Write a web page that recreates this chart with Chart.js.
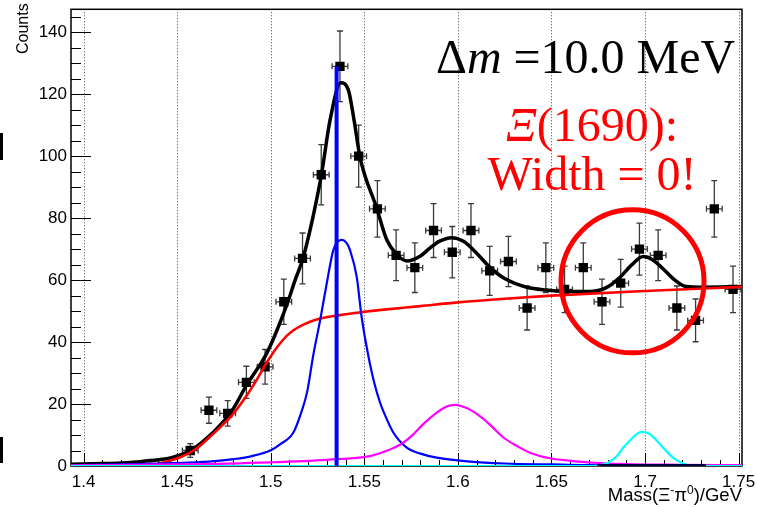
<!DOCTYPE html>
<html><head><meta charset="utf-8">
<script src="https://cdn.jsdelivr.net/npm/chart.js@4.4.0/dist/chart.umd.min.js"></script>
<style>
html,body{margin:0;padding:0;background:#fff;}
#wrap{position:relative;width:757px;height:507px;overflow:hidden;background:#fff;}
canvas{position:absolute;left:0;top:0;}
.t{position:absolute;white-space:nowrap;line-height:1;}
.bar{position:absolute;background:#000;}
</style></head><body>
<div id="wrap">
<canvas id="c" width="757" height="507"></canvas>
<div class="bar" style="left:0;top:133px;width:3px;height:27px;"></div>
<div class="bar" style="left:0;top:437px;width:3px;height:26px;"></div>
<div class="t" style="font-family:'Liberation Serif';font-size:48px;color:#000;left:436px;top:32.5px;">Δ<i>m</i> =10.0 MeV</div>
<div class="t" style="font-family:'Liberation Serif';font-size:48px;color:#ff0000;left:442px;width:300px;text-align:center;top:100.5px;"><i>Ξ</i>(1690):</div>
<div class="t" style="font-family:'Liberation Serif';font-size:48px;color:#ff0000;left:442px;width:300px;text-align:center;top:150px;">Width = 0!</div>
<div class="t" style="font-family:'Liberation Sans';font-size:16px;color:#000;left:15px;top:54px;transform-origin:0 0;transform:rotate(-90deg);">Counts</div>
<div class="t" style="font-family:'Liberation Sans';font-size:18.5px;color:#000;right:15px;top:486px;">Mass(Ξ<sup style="font-size:12px;vertical-align:7px;line-height:0">-</sup>π<sup style="font-size:12px;vertical-align:7px;line-height:0">0</sup>)/GeV</div>
</div>
<script>
// ---- data ----
const binCenters = [1.457,1.467,1.477,1.487,1.497,1.507,1.517,1.527,1.537,1.547,1.557,1.567,1.577,1.587,1.597,1.607,1.617,1.627,1.637,1.647,1.657,1.667,1.677,1.687,1.697,1.707,1.717,1.727,1.737,1.747];
const counts     = [5,18,17,27,32,53,67,94,129,100,83,68,64,76,69,76,63,66,51,64,57,64,53,59,70,68,51,47,83,57];
const errors     = [2.2,4.2,4.1,5.2,5.6,7.3,8.2,9.7,11.4,10,9.1,8.2,8,8.7,8.3,8.7,7.9,8.1,7.1,8,7.5,8,7.3,7.7,8.4,8.2,7.1,6.9,9.1,7.5];
const binHalf = 0.0042;

const totalX = [1.3933,1.41,1.42,1.43,1.44,1.447,1.457,1.465,1.4735,1.48,1.487,1.498,1.508,1.513,1.5174,1.5228,1.5272,1.5317,1.5374,1.5415,1.5447,1.5477,1.5566,1.562,1.5673,1.5727,1.58,1.585,1.59,1.5967,1.603,1.61,1.617,1.625,1.6368,1.6474,1.66,1.6723,1.68,1.6866,1.693,1.699,1.704,1.7097,1.716,1.722,1.73,1.7518];
const totalY = [0.6,0.8,1.0,1.4,2.0,2.7,4.9,8.5,13.5,18.5,26,36.5,51,59.9,67.4,81,94.4,111.6,123.7,121.3,111,99.7,83.3,73,68.3,66.2,67.8,70.3,72.5,73.7,72.5,68.7,64.2,60.5,57.7,56.8,56.3,56.4,57.8,60.9,65,67.6,66.6,63.6,60,57.9,57.7,57.9];

const bkgX = [1.3933,1.435,1.44,1.446,1.452,1.46,1.468,1.4735,1.4788,1.487,1.493,1.498,1.504,1.51,1.518,1.526,1.537,1.548,1.558,1.58,1.6,1.625,1.65,1.7,1.7518];
const bkgY = [0,0,0.7,1.7,2.9,5.5,9.7,12.8,16,22.6,28.3,33.5,38.8,42.8,45.8,47.5,48.7,49.6,50.3,51.6,52.8,54,55,56.5,57.8];

const xi1530X = [1.3933,1.42,1.44,1.4557,1.47,1.48,1.49,1.5,1.505,1.5121,1.5166,1.5195,1.5228,1.5264,1.5299,1.5334,1.536,1.5383,1.5405,1.5424,1.546,1.5486,1.553,1.5557,1.5584,1.5601,1.5655,1.5727,1.58,1.5887,1.6065,1.625,1.65,1.67,1.7518];
const xi1530Y = [0.3,0.5,0.8,1.1,1.6,2.2,3.2,5.1,7,10.8,17.8,24,36,47,58.8,69.6,72.5,73,72,69.6,60.9,48,33,26,20.5,17.8,10.8,5.9,4,2.7,1.4,0.8,0.5,0.3,0.2];

const xi1620X = [1.3933,1.45,1.5,1.53,1.553,1.562,1.57,1.5762,1.5815,1.5887,1.594,1.5984,1.602,1.6065,1.6135,1.6189,1.6243,1.6314,1.6385,1.6492,1.6615,1.681,1.72,1.7518];
const xi1620Y = [0.2,0.5,1.2,2.0,3.2,4.9,7.2,10.2,13.5,17.2,19.2,19.7,19.3,18.2,15.3,12.3,9.2,6.5,4.3,2.5,1.6,0.8,0.4,0.3];

const xi1690X = [1.3933,1.672,1.676,1.68,1.685,1.6883,1.692,1.6955,1.6985,1.702,1.705,1.708,1.712,1.716,1.72,1.724,1.728,1.7518];
const xi1690Y = [0,0,0.3,1,3.2,5.9,8.3,10.3,11,10.5,9,7,4.4,2.2,0.9,0.2,0,0];

const markerX = [1.5352,1.5352];
const markerY = [0,129];
const zeroX = [1.6745,1.7326];
const zeroY = [0.3,0.3];

const xTicks = [1.4,1.45,1.5,1.55,1.6,1.65,1.7,1.75];
const yTicks = [0,20,40,60,80,100,120,140];
const xRange = [1.3933,1.7518];
const yRange = [0,147.4];
const circleCenter = [1.6933,59.6];

const pts = (xs, ys) => xs.map((v,i)=>({x:v,y:ys[i]}));

const deco = {
  id:'rootDeco',
  beforeDatasetsDraw(chart){
    const {ctx, chartArea:a, scales:{x,y}} = chart;
    ctx.save();
    ctx.strokeStyle='#444'; ctx.lineWidth=1; ctx.setLineDash([1,2]);
    xTicks.forEach(v=>{const px=Math.round(x.getPixelForValue(v))+0.5; ctx.beginPath(); ctx.moveTo(px,a.top); ctx.lineTo(px,a.bottom); ctx.stroke();});
    ctx.setLineDash([]);
    ctx.strokeStyle='#000'; ctx.lineWidth=1.5;
    ctx.strokeRect(a.left, a.top, a.right-a.left, a.bottom-a.top);
    ctx.lineWidth=1;
    ctx.beginPath();
    for(let k=Math.ceil(xRange[0]*100); k<=Math.floor(xRange[1]*100); k++){
      const px=Math.round(x.getPixelForValue(k/100))+0.5;
      const len = (k%5===0)?13:6;
      ctx.moveTo(px,a.bottom); ctx.lineTo(px,a.bottom-len);
    }
    for(let k=5;k<=145;k+=5){
      const py=Math.round(y.getPixelForValue(k))+0.5;
      const len=(k%20===0)?20:10;
      ctx.moveTo(a.left,py); ctx.lineTo(a.left+len,py);
    }
    ctx.stroke();
    ctx.strokeStyle='#3a3a3a'; ctx.lineWidth=1.3;
    binCenters.forEach((c,i)=>{
      const px=x.getPixelForValue(c), py=y.getPixelForValue(counts[i]);
      const t=y.getPixelForValue(counts[i]+errors[i]), b=y.getPixelForValue(counts[i]-errors[i]);
      const l=x.getPixelForValue(c-binHalf), r=x.getPixelForValue(c+binHalf);
      ctx.beginPath();
      ctx.moveTo(px,t); ctx.lineTo(px,b);
      ctx.moveTo(l,py); ctx.lineTo(r,py);
      ctx.moveTo(px-3,t); ctx.lineTo(px+3,t);
      ctx.moveTo(px-3,b); ctx.lineTo(px+3,b);
      ctx.moveTo(l,py-3); ctx.lineTo(l,py+3);
      ctx.moveTo(r,py-3); ctx.lineTo(r,py+3);
      ctx.stroke();
    });
    ctx.restore();
  },
  afterDatasetsDraw(chart){
    const {ctx, scales:{x,y}} = chart;
    ctx.save();
    ctx.strokeStyle='#ff0000'; ctx.lineWidth=5;
    ctx.beginPath();
    ctx.arc(x.getPixelForValue(circleCenter[0]), y.getPixelForValue(circleCenter[1]), 71.5, 0, Math.PI*2);
    ctx.stroke();
    ctx.restore();
  }
};

const lineDs = (data, color, w, order) => ({data, showLine:true, borderColor:color, borderWidth:w, pointRadius:0, cubicInterpolationMode:'monotone', fill:false, order});

new Chart(document.getElementById('c'), {
  type:'scatter',
  data:{datasets:[
    {data:pts(binCenters,counts), pointStyle:'rect', pointRadius:6.6, backgroundColor:'#000', borderWidth:0, order:10},
    lineDs(pts(totalX,totalY), '#000000', 3.5, 6),
    lineDs(pts(bkgX,bkgY), '#ff0000', 2.6, 5),
    lineDs(pts(xi1530X,xi1530Y), '#0000ff', 2.2, 4),
    lineDs(pts(xi1620X,xi1620Y), '#ff00ff', 2.2, 3),
    lineDs(pts(xi1690X,xi1690Y), '#00ffff', 2.2, 2),
    lineDs(pts(zeroX,zeroY), '#000040', 2, 1),
    lineDs(pts(markerX,markerY), '#0000ff', 4, 0)
  ]},
  options:{
    responsive:false, animation:false,
    layout:{padding:{left:0,right:15,top:9.3,bottom:0}},
    plugins:{legend:{display:false}, tooltip:{enabled:false}},
    scales:{
      x:{type:'linear', min:xRange[0], max:xRange[1],
         afterBuildTicks:s=>{s.ticks=xTicks.map(v=>({value:v}));},
         afterFit:s=>{s.height=41; s.paddingLeft=0; s.paddingRight=0;},
         grid:{display:false, drawTicks:false}, border:{display:false},
         ticks:{color:'#000', padding:8, maxRotation:0, autoSkip:false, font:{family:'Liberation Sans', size:17, lineHeight:1}, callback:v=>String(v)}},
      y:{type:'linear', min:yRange[0], max:yRange[1],
         afterBuildTicks:s=>{s.ticks=yTicks.map(v=>({value:v}));},
         afterFit:s=>{s.width=71; s.paddingTop=0; s.paddingBottom=0;},
         grid:{display:false, drawTicks:false}, border:{display:false},
         ticks:{color:'#000', padding:4, font:{family:'Liberation Sans', size:17, lineHeight:1}, callback:v=>String(v)}}
    }
  },
  plugins:[deco]
});
</script>
</body></html>
